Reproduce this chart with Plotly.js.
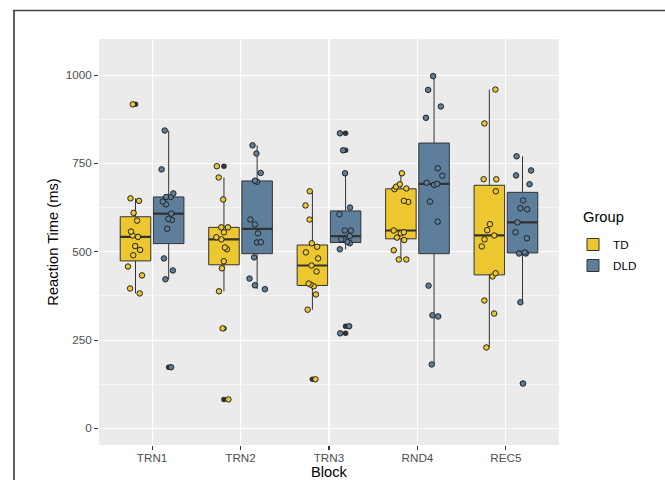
<!DOCTYPE html>
<html><head><meta charset="utf-8">
<script src="https://cdn.plot.ly/plotly-3.0.1.min.js"></script>
<style>html,body{margin:0;padding:0;background:#fff}#chart{width:665px;height:480px}</style>
</head><body><div id="chart"></div>
<script>
// ---- data ----
const blocks = ["TRN1", "TRN2", "TRN3", "RND4", "REC5"];
const groupNames = ["TD", "DLD"];

const tdTRN1 = [917, 651, 644, 610, 588, 557, 546, 542, 516, 505, 490, 458, 433, 396, 382];
const tdTRN2 = [742, 710, 648, 569, 569, 555, 541, 535, 512, 507, 473, 453, 388, 283, 82];
const tdTRN3 = [671, 631, 591, 524, 514, 498, 481, 461, 444, 410, 407, 402, 379, 336, 139];
const tdRND4 = [722, 691, 684, 679, 677, 644, 641, 560, 555, 552, 540, 533, 504, 478, 478];
const tdREC5 = [959, 863, 705, 705, 671, 578, 561, 546, 535, 515, 439, 430, 362, 325, 229];

const dldTRN1 = [843, 733, 665, 655, 655, 642, 634, 608, 593, 590, 565, 481, 447, 422, 173];
const dldTRN2 = [801, 778, 723, 701, 698, 591, 577, 552, 527, 526, 484, 424, 405, 394];
const dldTRN3 = [835, 787, 722, 625, 606, 560, 560, 544, 535, 535, 528, 524, 507, 289, 269];
const dldRND4 = [997, 958, 911, 879, 736, 715, 695, 692, 689, 642, 585, 404, 320, 317, 181];
const dldREC5 = [770, 730, 716, 691, 645, 623, 620, 583, 555, 538, 498, 495, 495, 357, 127];

const tdValues = [tdTRN1, tdTRN2, tdTRN3, tdRND4, tdREC5];
const dldValues = [dldTRN1, dldTRN2, dldTRN3, dldRND4, dldREC5];

// ---- styles ----
const groupColors = {TD: "#EDC72F", DLD: "#5D7F9B"};
const FONT = "Liberation Sans, Arial, sans-serif";

// ggplot-style (R type 7) box statistics
function quantile7(sorted, p) {
  const h = (sorted.length - 1) * p;
  const lo = Math.floor(h), hi = Math.ceil(h);
  return sorted[lo] + (h - lo) * (sorted[hi] - sorted[lo]);
}
function boxStats(groupValues) {
  const o = {q1: [], median: [], q3: [], lo: [], hi: [], outX: [], outY: [], allX: [], allY: []};
  groupValues.forEach((vals, i) => {
    const s = vals.slice().sort((a, b) => a - b);
    const q1 = quantile7(s, 0.25), m = quantile7(s, 0.5), q3 = quantile7(s, 0.75);
    const iqr = q3 - q1, lf = q1 - 1.5 * iqr, uf = q3 + 1.5 * iqr;
    const inside = s.filter(v => v >= lf && v <= uf);
    o.q1.push(q1); o.median.push(m); o.q3.push(q3);
    o.lo.push(inside[0]); o.hi.push(inside[inside.length - 1]);
    s.filter(v => v < lf || v > uf).forEach(v => { o.outX.push(blocks[i]); o.outY.push(v); });
    vals.forEach(v => { o.allX.push(blocks[i]); o.allY.push(v); });
  });
  return o;
}

const statsByGroup = {TD: boxStats(tdValues), DLD: boxStats(dldValues)};
const traces = [];
const clear = "rgba(0,0,0,0)";

groupNames.forEach(g => {
  const st = statsByGroup[g];
  traces.push({
    type: "box", name: g, x: blocks,
    q1: st.q1, median: st.median, q3: st.q3, lowerfence: st.lo, upperfence: st.hi,
    boxpoints: false, fillcolor: groupColors[g],
    line: {color: "#333333", width: 1}, whiskerwidth: 0,
    offsetgroup: g, alignmentgroup: "a", legendgroup: g, hoverinfo: "skip"
  });
});
groupNames.forEach(g => {
  const st = statsByGroup[g];
  traces.push({
    type: "box", name: g + " median", x: blocks,
    q1: st.median, median: st.median, q3: st.median, lowerfence: st.median, upperfence: st.median,
    boxpoints: false, fillcolor: clear,
    line: {color: "#333333", width: 2.2}, whiskerwidth: 0,
    offsetgroup: g, alignmentgroup: "a", showlegend: false, hoverinfo: "skip"
  });
});
groupNames.forEach(g => {
  const st = statsByGroup[g];
  traces.push({
    type: "box", name: g + " outliers", x: st.outX, y: st.outY,
    boxpoints: "all", jitter: 0, pointpos: 0, fillcolor: clear,
    line: {color: clear, width: 0}, whiskerwidth: 0,
    marker: {color: "#333333", size: 5.5},
    offsetgroup: g, alignmentgroup: "a", showlegend: false
  });
});
groupNames.forEach(g => {
  const st = statsByGroup[g];
  traces.push({
    type: "box", name: g + " points", x: st.allX, y: st.allY,
    boxpoints: "all", jitter: 0.6, pointpos: 0, fillcolor: clear,
    line: {color: clear, width: 0}, whiskerwidth: 0,
    marker: {color: groupColors[g], size: 5.5, line: {color: "#222222", width: 1}},
    offsetgroup: g, alignmentgroup: "a", showlegend: false
  });
});

const L = 99, R = 559, T = 39, B = 445;
const px2x = px => (px - L) / (R - L);
const px2y = py => (B - py) / (B - T);

const layout = {
  width: 665, height: 480,
  margin: {l: L, r: 665 - R, t: T, b: 480 - B, pad: 0},
  paper_bgcolor: "#ffffff", plot_bgcolor: "#EBEBEB",
  font: {family: FONT, color: "#4D4D4D", size: 11.7},
  boxmode: "group", boxgap: 0.25, boxgroupgap: 0.08,
  showlegend: true,
  xaxis: {
    type: "category", range: [-0.6, 4.6], categoryorder: "array", categoryarray: blocks,
    showgrid: true, gridcolor: "#ffffff", gridwidth: 1.07, zeroline: false, showline: false,
    ticks: "outside", ticklen: 4, tickwidth: 1.07, tickcolor: "#333333",
    ticklabelstandoff: -2,
    tickfont: {family: FONT, size: 11.7, color: "#4D4D4D"},
    fixedrange: true
  },
  yaxis: {
    range: [-47, 1102], tickmode: "linear", tick0: 0, dtick: 250,
    showgrid: true, gridcolor: "#ffffff", gridwidth: 1.07, zeroline: false, showline: false,
    ticks: "outside", ticklen: 4, tickwidth: 1.07, tickcolor: "#333333",
    tickfont: {family: FONT, size: 11.7, color: "#4D4D4D"},
    minor: {dtick: 125, tick0: 0, showgrid: true, gridcolor: "#ffffff", gridwidth: 0.55, ticks: ""},
    title: {text: "Reaction Time (ms)", font: {family: FONT, size: 14.7, color: "#000000"}, standoff: 3},
    fixedrange: true
  },
  legend: {
    x: px2x(573), xanchor: "left", y: px2y(230), yanchor: "top",
    bgcolor: "rgba(0,0,0,0)", traceorder: "grouped", tracegroupgap: 2,
    font: {family: FONT, size: 11.7, color: "#000000"},
    itemwidth: 30
  },
  annotations: [
    {text: "Group", xref: "paper", yref: "paper", x: px2x(581), y: px2y(217),
     xanchor: "left", yanchor: "middle", showarrow: false,
     font: {family: FONT, size: 14.7, color: "#000000"}},
    {text: "Block", xref: "paper", yref: "paper", x: 0.5, y: px2y(472),
     xanchor: "center", yanchor: "middle", showarrow: false, borderpad: 0,
     font: {family: FONT, size: 14.7, color: "#000000"}}
  ],
  shapes: [
    {type: "line", xref: "paper", yref: "paper", x0: px2x(14), x1: px2x(14), y0: px2y(10.5), y1: px2y(490),
     line: {color: "#444444", width: 1.7}},
    {type: "line", xref: "paper", yref: "paper", x0: px2x(13.2), x1: px2x(680), y0: px2y(10.5), y1: px2y(10.5),
     line: {color: "#444444", width: 1.7}}
  ]
};

Plotly.newPlot("chart", traces, layout, {staticPlot: true, displayModeBar: false});
</script>
</body></html>
